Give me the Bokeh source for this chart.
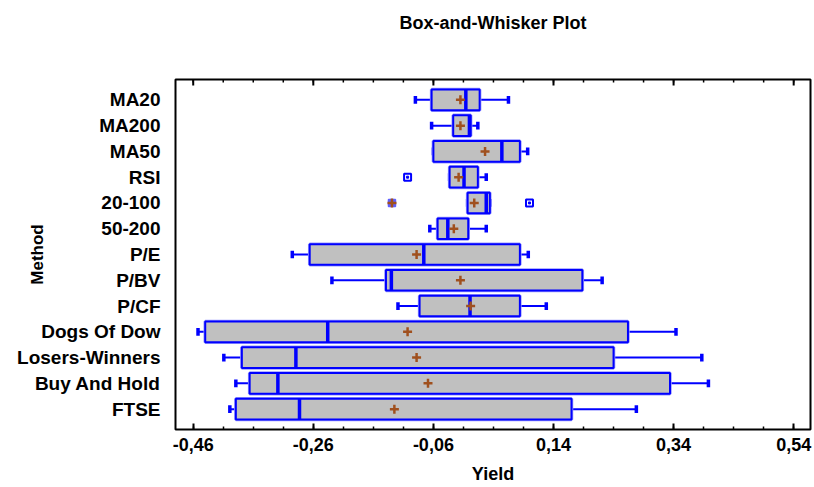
from bokeh.plotting import figure
from bokeh.models import Range1d, FixedTicker, LinearAxis
from bokeh.embed import file_html
from bokeh.resources import INLINE

# ---- data (top to bottom) ----
methods = ["MA20", "MA200", "MA50", "RSI", "20-100", "50-200", "P/E", "P/BV",
           "P/CF", "Dogs Of Dow", "Losers-Winners", "Buy And Hold", "FTSE"]
mins = [-0.090, -0.063, -0.060, -0.033, -0.003, -0.066, -0.295, -0.229,
        -0.119, -0.452, -0.409, -0.389, -0.399]
q1 = [-0.063, -0.027, -0.060, -0.033, -0.003, -0.053, -0.266, -0.139,
      -0.083, -0.440, -0.379, -0.366, -0.389]
medians = [-0.006, 0.000, 0.054, -0.009, 0.028, -0.036, -0.076, -0.130,
           0.001, -0.236, -0.289, -0.319, -0.283]
q3 = [0.017, 0.002, 0.084, 0.014, 0.034, -0.002, 0.084, 0.188,
      0.084, 0.264, 0.240, 0.334, 0.170]
maxs = [0.065, 0.014, 0.097, 0.028, 0.034, 0.028, 0.098, 0.221,
        0.128, 0.344, 0.387, 0.398, 0.278]
means = [-0.015, -0.015, 0.026, -0.018, 0.008, -0.026, -0.088, -0.015,
         0.002, -0.103, -0.088, -0.069, -0.125]
outside_method = ["RSI", "20-100"]
outside_val = [-0.103, 0.100]
far_method = ["20-100"]
far_val = [-0.129]

x_ticks = [-0.46, -0.26, -0.06, 0.14, 0.34, 0.54]
x_tick_labels = ["-0,46", "-0,26", "-0,06", "0,14", "0,34", "0,54"]

# ---- layout ----
n = len(methods)
ypos = [n - i for i in range(n)]
ymap = dict(zip(methods, ypos))

FONT = "Liberation Sans"
BLUE = "#0000ff"
BROWN = "#a0501e"
Y0, Y1 = 0.21, 13.79

p = figure(width=814, height=487, output_backend="svg", toolbar_location=None,
           x_range=Range1d(-0.4895, 0.568), y_range=Range1d(Y0, Y1),
           min_border_left=175, min_border_right=4, min_border_top=79,
           min_border_bottom=58)
p.xgrid.visible = False
p.ygrid.visible = False
p.outline_line_color = "black"
p.outline_line_width = 2
p.background_fill_color = "white"

minor = [round(-0.46 + 0.05 * k, 2) for k in range(0, 21)]
xt = FixedTicker(ticks=x_ticks, minor_ticks=minor)

xa = p.xaxis[0]
xa.ticker = xt
xa.major_label_overrides = {t: l for t, l in zip(x_ticks, x_tick_labels)}
xa.axis_line_color = None
xa.major_tick_in = 6
xa.major_tick_out = 0
xa.minor_tick_in = 3
xa.minor_tick_out = 0
xa.major_tick_line_width = 2
xa.minor_tick_line_width = 1.5
xa.major_label_text_font = FONT
xa.major_label_text_font_style = "bold"
xa.major_label_text_font_size = "18px"
xa.major_label_text_color = "black"
xa.major_label_standoff = 8
xa.axis_label = "Yield"
xa.axis_label_text_font = FONT
xa.axis_label_text_font_style = "bold"
xa.axis_label_text_font_size = "18px"
xa.axis_label_text_color = "black"
xa.axis_label_standoff = 10

ya = p.yaxis[0]
ya.ticker = FixedTicker(ticks=ypos)
ya.major_label_overrides = {y: m for y, m in zip(ypos, methods)}
ya.axis_line_color = None
ya.major_tick_line_color = None
ya.minor_tick_line_color = None
ya.major_label_text_font = FONT
ya.major_label_text_font_style = "bold"
ya.major_label_text_font_size = "19px"
ya.major_label_text_color = "black"
ya.major_label_standoff = 9
ya.axis_label = "Method"
ya.axis_label_text_font = FONT
ya.axis_label_text_font_style = "bold"
ya.axis_label_text_font_size = "17px"
ya.axis_label_text_color = "black"
ya.axis_label_standoff = -33

# chart title carried by a tick-less axis above the frame
top = LinearAxis(ticker=FixedTicker(ticks=[]), axis_line_color=None,
                 major_tick_line_color=None, minor_tick_line_color=None,
                 axis_label="Box-and-Whisker Plot", axis_label_text_font=FONT,
                 axis_label_text_font_style="bold", axis_label_text_font_size="18px",
                 axis_label_text_color="black", axis_label_standoff=47)
p.add_layout(top, "above")

# ticks along the top edge, mirroring the bottom axis
ppu = (429 - 79) / (Y1 - Y0)
p.segment(x0=x_ticks, y0=[Y1] * len(x_ticks), x1=x_ticks,
          y1=[Y1 - 6 / ppu] * len(x_ticks), line_color="black", line_width=2)
p.segment(x0=minor, y0=[Y1] * len(minor), x1=minor,
          y1=[Y1 - 3 / ppu] * len(minor), line_color="black", line_width=1.5)

# ---- glyphs ----
ylo_cap = [y - 0.15 for y in ypos]
yhi_cap = [y + 0.15 for y in ypos]
ylo_box = [y - 0.4 for y in ypos]
yhi_box = [y + 0.4 for y in ypos]

# whiskers
p.segment(x0=mins, y0=ypos, x1=q1, y1=ypos, line_color=BLUE, line_width=2)
p.segment(x0=q3, y0=ypos, x1=maxs, y1=ypos, line_color=BLUE, line_width=2)
p.segment(x0=mins, y0=ylo_cap, x1=mins, y1=yhi_cap, line_color=BLUE, line_width=3.5)
p.segment(x0=maxs, y0=ylo_cap, x1=maxs, y1=yhi_cap, line_color=BLUE, line_width=3.5)

# boxes (with soft halo)
p.hbar(y=ypos, left=q1, right=q3, height=0.8, fill_color="#c0c0c0",
       line_color="#9a9aff", line_width=3.5)
p.hbar(y=ypos, left=q1, right=q3, height=0.8, fill_color="#c0c0c0",
       line_color=BLUE, line_width=2)
p.segment(x0=medians, y0=ylo_box, x1=medians, y1=yhi_box, line_color=BLUE, line_width=3.5)

# means
p.scatter(x=means, y=ypos, marker="cross", size=9, line_color=BROWN, line_width=2.5)

# outside points
oy = [ymap[m] for m in outside_method]
p.scatter(x=outside_val, y=oy, marker="square", size=7, line_color=BLUE,
          fill_color="white", line_width=2)
p.scatter(x=outside_val, y=oy, marker="square", size=2, line_color=BLUE,
          fill_color=BLUE, line_width=1)
fy = [ymap[m] for m in far_method]
p.scatter(x=far_val, y=fy, marker="square", size=7, line_color="#6060ff",
          fill_color="#6060ff", line_width=1.5)
p.scatter(x=far_val, y=fy, marker="cross", size=9, line_color=BROWN, line_width=2.5)

open("out.html", "w").write(file_html(p, INLINE))
